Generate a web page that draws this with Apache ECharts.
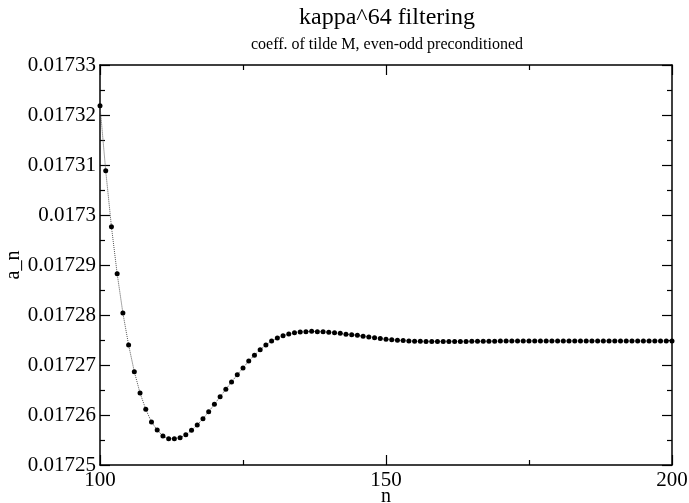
<!DOCTYPE html>
<html>
<head>
<meta charset="utf-8">
<script src="https://cdn.jsdelivr.net/npm/echarts@6/dist/echarts.min.js"></script>
<style>html,body{margin:0;padding:0;background:#fff}#c{width:689px;height:503px}</style>
</head>
<body>
<div id="c"></div>
<script>
// n = 100 .. 200
const nStart = 100;
const values = [
  0.01732186, 0.01730886, 0.01729766, 0.01728826, 0.0172804,
  0.017274,   0.01726866, 0.0172644,  0.01726114, 0.0172586,
  0.017257,   0.0172558,  0.01725526, 0.01725526, 0.01725546,
  0.01725606, 0.01725694, 0.017258,   0.01725926, 0.01726066,
  0.01726214, 0.01726366, 0.01726514, 0.0172666,  0.01726806,
  0.0172694,  0.0172708,  0.01727194, 0.01727306, 0.017274,
  0.0172748,  0.0172754,  0.01727586, 0.0172762,  0.01727646,
  0.0172766,  0.01727666, 0.01727674, 0.01727666, 0.01727666,
  0.01727654, 0.01727646, 0.01727634, 0.01727614, 0.01727606,
  0.01727594, 0.01727574, 0.0172756,  0.01727546, 0.0172753,
  0.01727516, 0.01727506, 0.01727496, 0.01727488, 0.0172748,
  0.01727476, 0.01727473, 0.01727471, 0.0172747,  0.0172747,
  0.0172747,  0.0172747,  0.0172747,  0.01727471, 0.01727472,
  0.01727473, 0.01727474, 0.01727475, 0.01727476, 0.01727477,
  0.01727478, 0.01727479, 0.0172748,  0.0172748,  0.0172748,
  0.0172748,  0.0172748,  0.0172748,  0.0172748,  0.0172748,
  0.0172748,  0.0172748,  0.0172748,  0.0172748,  0.0172748,
  0.0172748,  0.0172748,  0.0172748,  0.0172748,  0.0172748,
  0.0172748,  0.0172748,  0.0172748,  0.0172748,  0.0172748,
  0.0172748,  0.0172748,  0.0172748,  0.0172748,  0.0172748,
  0.0172748
];
const xTicks = [100, 150, 200];
const yTicks = [0.01725, 0.01726, 0.01727, 0.01728, 0.01729, 0.0173, 0.01731, 0.01732, 0.01733];

const points = values.map((v, i) => [nStart + i, v]);
const font = 'Liberation Serif';
const fmtY = v => parseFloat(Number(v).toPrecision(7)).toString();

const axisCommon = {
  axisLine: { show: true, onZero: false, lineStyle: { color: '#000', width: 1.5 } },
  axisTick: { show: true, inside: true, length: 10, lineStyle: { color: '#000', width: 1.2 } },
  minorTick: { show: true, splitNumber: 2, length: 5, lineStyle: { color: '#000', width: 1.2 } },
  splitLine: { show: false }
};

const chart = echarts.init(document.getElementById('c'));
chart.setOption({
  backgroundColor: '#fff',
  animation: false,
  title: [
    { text: 'kappa^64 filtering', left: 382, top: 1, textAlign: 'center',
      textStyle: { fontFamily: font, fontSize: 24, fontWeight: 'normal', color: '#000' } },
    { text: 'coeff. of tilde M, even-odd preconditioned', left: 382, top: 32, textAlign: 'center',
      textStyle: { fontFamily: font, fontSize: 16, fontWeight: 'normal', color: '#000' } }
  ],
  grid: { left: 100, right: 17, top: 65, bottom: 38, containLabel: false, outerBoundsMode: 'none' },
  xAxis: [
    Object.assign({
      type: 'value', min: xTicks[0], max: xTicks[xTicks.length - 1], interval: 50,
      name: 'n', nameLocation: 'middle', nameGap: 22, nameMoveOverlap: false,
      nameTextStyle: { fontFamily: font, fontSize: 20, color: '#000' },
      axisLabel: { fontFamily: font, fontSize: 21, color: '#000', margin: 5,
        formatter: v => xTicks.includes(v) ? String(v) : '' }
    }, axisCommon),
    Object.assign({
      type: 'value', position: 'top', min: xTicks[0], max: xTicks[xTicks.length - 1], interval: 50,
      axisLabel: { show: false }
    }, axisCommon)
  ],
  yAxis: [
    Object.assign({
      type: 'value', min: yTicks[0], max: yTicks[yTicks.length - 1], interval: 0.00001,
      name: 'a_n', nameLocation: 'middle', nameGap: 76, nameRotate: 90, nameMoveOverlap: false,
      nameTextStyle: { fontFamily: font, fontSize: 20, color: '#000' },
      axisLabel: { fontFamily: font, fontSize: 21, color: '#000', margin: 4, formatter: fmtY }
    }, axisCommon),
    Object.assign({
      type: 'value', position: 'right', min: yTicks[0], max: yTicks[yTicks.length - 1], interval: 0.00001,
      axisLabel: { show: false }
    }, axisCommon)
  ],
  series: [{
    type: 'line',
    data: points,
    xAxisIndex: 0, yAxisIndex: 0,
    symbol: 'circle', symbolSize: 5,
    showAllSymbol: true,
    itemStyle: { color: '#000' },
    lineStyle: { color: '#555', width: 1, type: 'dotted' },
    clip: false
  }]
});
</script>
</body>
</html>
